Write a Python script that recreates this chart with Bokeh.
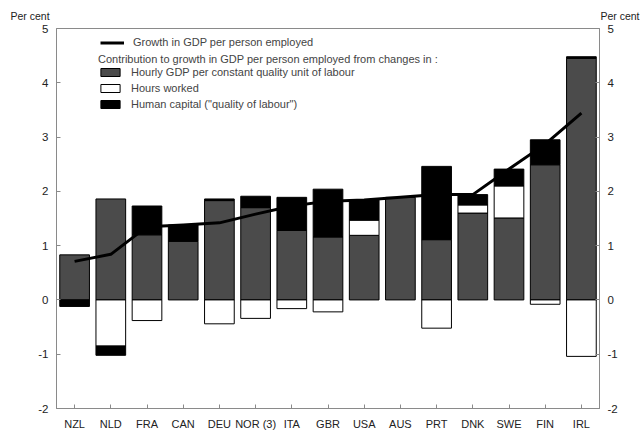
import numpy as np
from bokeh.plotting import figure
from bokeh.models import (ColumnDataSource, FactorRange, Range1d, LinearAxis, FixedTicker,
                          Legend, LegendItem, LabelSet, Title)
from bokeh.embed import file_html
from bokeh.resources import INLINE

countries = ["NZL", "NLD", "FRA", "CAN", "DEU", "NOR (3)", "ITA", "GBR", "USA", "AUS",
             "PRT", "DNK", "SWE", "FIN", "IRL"]
hourly_gdp = [0.83, 1.86, 1.20, 1.08, 1.83, 1.70, 1.28, 1.16, 1.19, 1.89, 1.11, 1.60, 1.51, 2.49, 4.45]
hours_worked = [0.0, -0.85, -0.38, 0.0, -0.44, -0.34, -0.16, -0.22, 0.28, 0.0, -0.52, 0.15, 0.59, -0.08, -1.04]
human_capital = [-0.12, -0.17, 0.53, 0.30, 0.03, 0.21, 0.61, 0.88, 0.37, 0.0, 1.35, 0.19, 0.31, 0.46, 0.03]
gdp_growth = [0.71, 0.84, 1.35, 1.38, 1.42, 1.58, 1.73, 1.82, 1.84, 1.89, 1.94, 1.94, 2.41, 2.87, 3.44]
y_ticks = [-2, -1, 0, 1, 2, 3, 4, 5]
highlight = "PRT"
unit_label = "Per cent"

FONT = "Liberation Sans"
AXIS_GREY = "#8a8a8a"

p = figure(x_range=FactorRange(*countries), y_range=Range1d(-2, 5),
           width=640, height=432, output_backend="svg", toolbar_location=None,
           min_border_left=56, min_border_right=41, min_border_top=28, min_border_bottom=22)
p.background_fill_color = "white"
p.border_fill_color = "white"
p.outline_line_color = AXIS_GREY
p.grid.visible = False
p.title.text = ""

# unit labels above both value axes (second title pulled back onto the same row)
t_left = Title(text=unit_label, align="left", offset=-46, standoff=14,
               text_font=FONT, text_font_size="10.5px", text_font_style="normal",
               text_color="#222222")
t_right = Title(text=unit_label, align="right", offset=-40, standoff=-42,
                text_font=FONT, text_font_size="10.5px", text_font_style="normal",
                text_color="#222222")
p.add_layout(t_left, "above")
p.add_layout(t_right, "above")

# highlighted category label in bold
hl_src = ColumnDataSource(dict(x=[highlight], y=[y_ticks[0]], text=[highlight]))
p.add_layout(LabelSet(x="x", y="y", text="text", source=hl_src, y_offset=-15, level="underlay",
                      text_align="center", text_baseline="middle", text_font=FONT,
                      text_font_size="11px", text_color="#222222", text_font_style="bold"))

# stacked segments (positive above 0, negative below 0)
series = [("Hourly GDP per constant quality unit of labour", hourly_gdp, "#4b4b4b"),
          ("Hours worked", hours_worked, "white"),
          ("Human capital (\"quality of labour\")", human_capital, "black")]
pos = np.zeros(len(countries))
neg = np.zeros(len(countries))
bar_renderers = []
for name, vals, col in series:
    v = np.array(vals, dtype=float)
    bottoms = np.where(v >= 0, pos, neg)
    tops = bottoms + v
    pos = np.where(v >= 0, tops, pos)
    neg = np.where(v < 0, tops, neg)
    keep = v != 0
    src = ColumnDataSource(dict(x=[c for c, k in zip(countries, keep) if k],
                                bottom=bottoms[keep], top=tops[keep]))
    r = p.vbar(x="x", bottom="bottom", top="top", width=0.82, source=src,
               fill_color=col, line_color="black", line_width=1)
    bar_renderers.append((name, r))

line_r = p.line(x=countries, y=gdp_growth, line_color="black", line_width=3, line_join="round")

# axes
p.yaxis.ticker = FixedTicker(ticks=y_ticks)
right = LinearAxis(ticker=FixedTicker(ticks=y_ticks))
p.add_layout(right, "right")
for ax in (p.yaxis[0], right):
    ax.axis_line_color = AXIS_GREY
    ax.major_tick_line_color = AXIS_GREY
    ax.major_tick_in = 4
    ax.major_tick_out = 0
    ax.minor_tick_line_color = None
    ax.major_label_text_font = FONT
    ax.major_label_text_font_size = "11.5px"
    ax.major_label_text_color = "#222222"
    ax.major_label_standoff = 8
    ax.major_label_overrides = {t: str(t) for t in y_ticks}

xa = p.xaxis[0]
xa.axis_line_color = AXIS_GREY
xa.major_tick_line_color = AXIS_GREY
xa.major_tick_in = 4
xa.major_tick_out = 0
xa.minor_tick_line_color = None
xa.major_label_overrides = {highlight: ""}
xa.major_label_text_font = FONT
xa.major_label_text_font_size = "11px"
xa.major_label_text_color = "#222222"
xa.major_label_standoff = 9

# legends
leg1 = Legend(items=[LegendItem(label="Growth in GDP per person employed", renderers=[line_r])],
              location=(44, 360), glyph_width=24, glyph_height=11, label_height=11,
              label_standoff=9, padding=0, margin=0, spacing=0,
              border_line_color=None, background_fill_alpha=0,
              label_text_font=FONT, label_text_font_size="11px")
leg2 = Legend(items=[LegendItem(label=n, renderers=[r]) for n, r in bar_renderers],
              title="Contribution to growth in GDP per person employed from changes in :",
              location=(42, 298), glyph_width=24, glyph_height=10, label_height=10,
              label_standoff=9, padding=0, margin=0, spacing=4, title_standoff=1,
              border_line_color=None, background_fill_alpha=0,
              label_text_font=FONT, label_text_font_size="11px",
              title_text_font=FONT, title_text_font_size="11px", title_text_font_style="normal")
p.add_layout(leg1)
p.add_layout(leg2)

open("out.html", "w").write(file_html(p, INLINE))
